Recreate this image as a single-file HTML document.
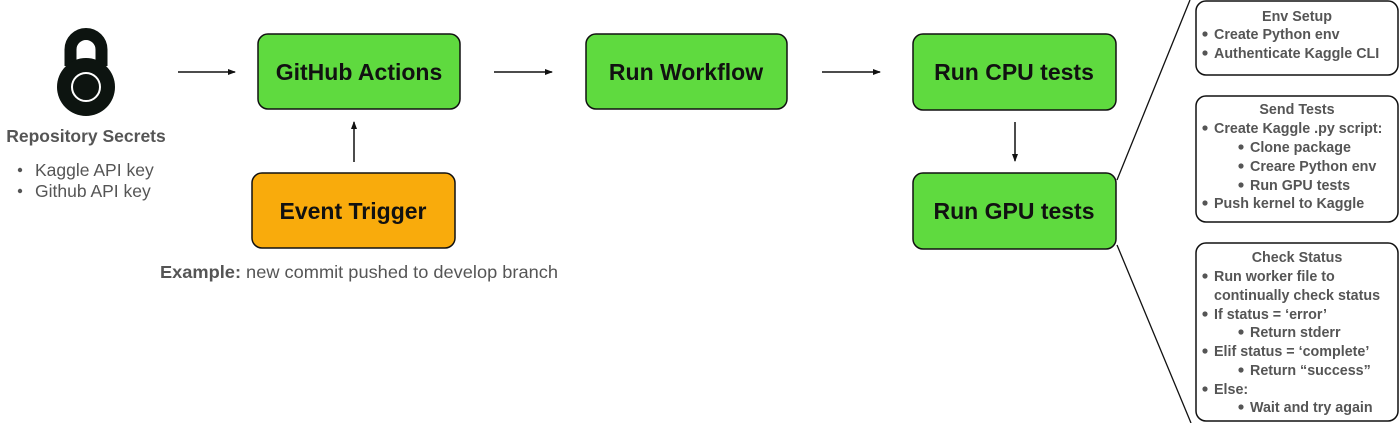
<!DOCTYPE html>
<html><head><meta charset="utf-8"><style>
html,body{margin:0;padding:0;background:#fff;width:1400px;height:423px;overflow:hidden}
svg{display:block}
.b{font-family:"Liberation Sans",sans-serif;font-weight:bold;font-size:23px;fill:#111;text-anchor:middle}
.s{font-family:"Liberation Sans",sans-serif;font-weight:bold;font-size:14.3px;fill:#555}
.t{text-anchor:middle}
</style></head><body>
<svg width="1400" height="423" viewBox="0 0 1400 423" xmlns="http://www.w3.org/2000/svg">
<defs><marker id="a" markerWidth="8" markerHeight="8" refX="7" refY="4" orient="auto" markerUnits="userSpaceOnUse"><path d="M0,1 L8,4 L0,7 Z" fill="#111"/></marker></defs>
<!-- lock -->
<path d="M70.5,66 V49.5 A15.5,15.5 0 0 1 101.5,49.5 V66" fill="none" stroke="#0d1410" stroke-width="12"/>
<circle cx="86" cy="87" r="29" fill="#0d1410"/>
<circle cx="86" cy="87" r="14" fill="#0d1410" stroke="#fff" stroke-width="2"/>
<text x="86" y="142" class="s t" style="font-size:17.5px">Repository Secrets</text>
<g font-family="Liberation Sans,sans-serif" font-size="17.5" fill="#555">
<circle cx="20" cy="170" r="2.2"/><text x="35" y="176">Kaggle API key</text>
<circle cx="20" cy="191" r="2.2"/><text x="35" y="197">Github API key</text>
<text x="160" y="278" textLength="398" lengthAdjust="spacingAndGlyphs"><tspan font-weight="bold">Example:</tspan> new commit pushed to develop branch</text>
</g>
<!-- arrows -->
<g stroke="#111" stroke-width="1.5" marker-end="url(#a)">
<line x1="178" y1="72" x2="235" y2="72"/>
<line x1="494" y1="72" x2="552" y2="72"/>
<line x1="822" y1="72" x2="880" y2="72"/>
<line x1="354" y1="162" x2="354" y2="122"/>
<line x1="1015" y1="122" x2="1015" y2="161"/>
</g>
<line x1="1117" y1="180" x2="1190" y2="0" stroke="#111" stroke-width="1.3"/>
<line x1="1117" y1="245" x2="1191" y2="423" stroke="#111" stroke-width="1.3"/>
<!-- boxes -->
<g stroke="#111" stroke-width="1.5">
<rect x="258" y="34" width="202" height="75" rx="10" fill="#5fda3f"/>
<rect x="586" y="34" width="201" height="75" rx="10" fill="#5fda3f"/>
<rect x="913" y="34" width="203" height="76" rx="10" fill="#5fda3f"/>
<rect x="913" y="173" width="203" height="76" rx="10" fill="#5fda3f"/>
<rect x="252" y="173" width="203" height="75" rx="10" fill="#f9ab0c"/>
</g>
<text x="359" y="80" class="b">GitHub Actions</text>
<text x="686" y="80" class="b">Run Workflow</text>
<text x="1014" y="80" class="b">Run CPU tests</text>
<text x="1014" y="219" class="b">Run GPU tests</text>
<text x="353" y="219" class="b">Event Trigger</text>
<!-- right boxes -->
<g fill="none" stroke="#111" stroke-width="1.5">
<rect x="1196" y="1" width="202" height="74" rx="10"/>
<rect x="1196" y="96" width="202" height="126" rx="10"/>
<rect x="1196" y="243" width="202" height="178" rx="10"/>
</g>
<g class="s">
<text x="1297" y="21" class="t">Env Setup</text>
<circle cx="1205" cy="34" r="2.6"/><text x="1214" y="39">Create Python env</text>
<circle cx="1205" cy="53" r="2.6"/><text x="1214" y="58">Authenticate Kaggle CLI</text>

<text x="1297" y="114" class="t">Send Tests</text>
<circle cx="1205" cy="128" r="2.6"/><text x="1214" y="133">Create Kaggle .py script:</text>
<circle cx="1241" cy="147" r="2.6"/><text x="1250" y="152">Clone package</text>
<circle cx="1241" cy="166" r="2.6"/><text x="1250" y="171">Creare Python env</text>
<circle cx="1241" cy="185" r="2.6"/><text x="1250" y="190">Run GPU tests</text>
<circle cx="1205" cy="203" r="2.6"/><text x="1214" y="208">Push kernel to Kaggle</text>

<text x="1297" y="262" class="t">Check Status</text>
<circle cx="1205" cy="276" r="2.6"/><text x="1214" y="281">Run worker file to</text>
<text x="1214" y="300">continually check status</text>
<circle cx="1205" cy="314" r="2.6"/><text x="1214" y="319">If status = ‘error’</text>
<circle cx="1241" cy="332" r="2.6"/><text x="1250" y="337">Return stderr</text>
<circle cx="1205" cy="351" r="2.6"/><text x="1214" y="356">Elif status = ‘complete’</text>
<circle cx="1241" cy="370" r="2.6"/><text x="1250" y="375">Return “success”</text>
<circle cx="1205" cy="389" r="2.6"/><text x="1214" y="394">Else:</text>
<circle cx="1241" cy="407" r="2.6"/><text x="1250" y="412">Wait and try again</text>
</g>
</svg>
</body></html>
